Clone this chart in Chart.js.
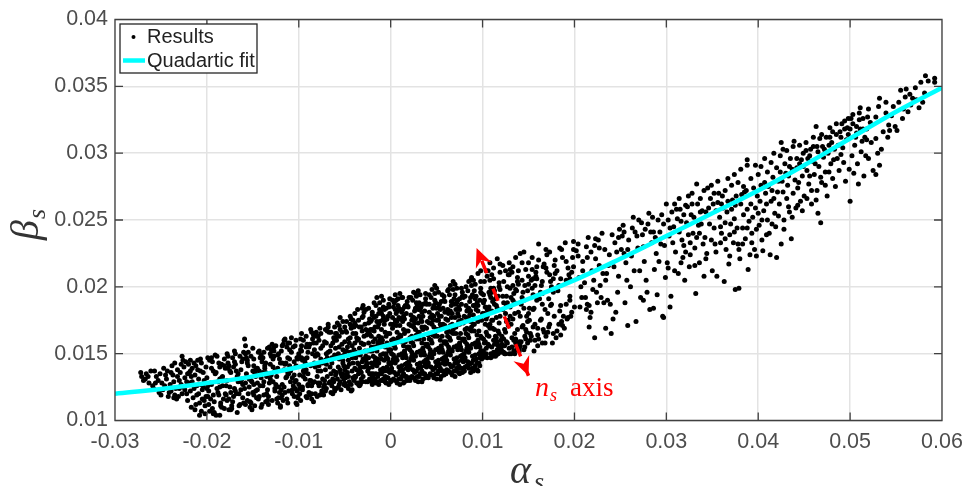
<!DOCTYPE html>
<html>
<head>
<meta charset="utf-8">
<title>alpha_s vs beta_s</title>
<script src="https://cdn.jsdelivr.net/npm/chart.js@4"></script>
<style>
  html, body { margin: 0; padding: 0; background: #fff; }
  canvas { display: block; }
</style>
</head>
<body>
<canvas id="graph" width="965" height="486"></canvas>
<script>
// Tick labels
var alphaTicks = [-0.03, -0.02, -0.01, 0, 0.01, 0.02, 0.03, 0.04, 0.05, 0.06];
var betaTicks = [0.01, 0.015, 0.02, 0.025, 0.03, 0.035, 0.04];
var seriesNames = ['Results', 'Quadartic fit'];

// Fit curve
var fitAlpha = [-0.03, -0.025, -0.02, -0.015, -0.01, -0.005, 0, 0.005, 0.01, 0.015, 0.02, 0.025, 0.03, 0.035, 0.04, 0.045, 0.05, 0.055, 0.06];
var fitBeta = [0.012, 0.01235, 0.0128, 0.0133, 0.014, 0.0148, 0.0157, 0.0167, 0.0178, 0.0191, 0.0205, 0.0221, 0.0238, 0.0255, 0.0272, 0.0291, 0.0311, 0.0331, 0.0349];

// n_s axis arrow, tip to tip
var arrowAlpha = [0.00935, 0.015];
var arrowBeta = [0.0229, 0.01335];

var resultPairs = [
-272,136,-269,130,-271,133,-266,135,-263,128,-267,131,-261,137,-264,133,-259,126,
-257,137,-252,121,-255,133,-249,128,-258,124,-247,139,-250,119,-253,130,-245,134,-248,123,-243,137,-256,128,-242,118,-246,126,-251,135,-244,131,-241,121,
-238,141,-233,116,-236,129,-239,122,-229,136,-235,143,-226,125,-231,118,-224,132,-237,134,-221,115,-228,127,-227,148,-232,138,-225,140,-222,120,-234,124,-230,130,-223,144,-240,127,-227,120,-236,117,-226,145,-232,133,-228,142,-221,135,-224,123,-239,136,-235,119,-222,129,-230,124,
-217,110,-209,131,-214,143,-204,125,-219,136,-206,107,-211,119,-201,140,-216,129,-208,104,-213,134,-203,115,-218,145,-205,123,-210,138,-202,111,-215,117,-207,127,-220,142,-212,112,-200,132,-216,139,-209,120,-204,136,-211,126,-218,122,-201,118,-206,143,-213,108,-203,130,-219,128,-208,113,-214,124,-205,116,-210,145,-217,133,-202,105,-207,137,-212,141,-200,124,
-193,105,-186,125,-199,147,-181,109,-190,136,-196,116,-184,142,-188,121,-198,112,-182,130,-191,149,-185,113,-195,127,-180,139,-192,106,-187,119,-197,145,-183,133,-194,109,-189,124,-181,141,-199,118,-186,104,-193,137,-184,132,-196,128,-190,104,-187,143,-198,122,-182,116,-191,135,-185,111,-194,144,-180,120,-188,129,-197,107,-192,114,-183,126,-195,139,-189,148,-186,131,-199,126,-181,146,-193,119,-184,110,
-174,108,-162,131,-178,150,-168,120,-171,140,-164,112,-179,126,-161,146,-176,116,-166,135,-173,109,-169,122,-177,143,-163,129,-172,114,-160,151,-175,137,-165,111,-170,124,-167,133,-178,115,-161,127,-174,136,-164,148,-179,119,-169,142,-176,108,-162,144,-171,118,-166,129,-173,111,-163,123,-177,139,-168,137,-175,125,-160,113,-172,147,-165,120,-170,152,-178,130,-167,106,-163,138,-174,121,-176,141,-161,117,
-152,113,-143,152,-158,128,-149,119,-155,141,-141,110,-147,133,-157,147,-145,123,-153,114,-159,161,-148,136,-151,108,-142,126,-156,145,-146,117,-154,131,-144,151,-150,121,-140,112,-158,156,-147,138,-152,130,-143,118,-156,143,-149,127,-141,149,-155,120,-145,139,-153,110,-159,124,-142,147,-157,135,-148,111,-151,129,-144,116,-150,154,-146,134,-154,125,-140,144,-158,112,-143,137,-152,148,-147,122,-156,115,-149,141,-141,132,-155,151,-145,128,
-134,115,-122,150,-138,129,-126,122,-131,142,-120,111,-136,136,-125,156,-133,118,-128,146,-139,126,-123,113,-130,153,-135,133,-121,121,-127,148,-137,139,-124,116,-132,128,-129,157,-139,136,-122,117,-134,154,-126,124,-136,143,-120,110,-131,131,-123,149,-138,119,-128,140,-125,127,-133,112,-121,146,-130,134,-135,120,-127,152,-137,141,-124,133,-129,115,-122,125,-139,147,-132,155,-126,137,-136,114,-120,143,-134,123,-128,129,-123,139,-131,150,
-111,135,-102,112,-116,160,-105,144,-119,123,-108,151,-101,117,-113,133,-104,156,-118,127,-110,141,-103,113,-115,161,-107,120,-100,148,-112,136,-117,115,-106,155,-109,129,-114,143,-101,118,-119,152,-104,129,-112,113,-108,139,-116,125,-102,147,-110,158,-118,119,-105,134,-113,116,-100,150,-107,123,-115,142,-103,130,-111,122,-117,157,-106,126,-109,137,-119,117,-101,146,-114,132,-104,124,-110,153,-116,138,-108,162,-102,122,-112,147,-118,143,-105,118,-100,127,-113,155,-107,132,-115,121,-103,141,
-93,146,-84,114,-97,165,-88,130,-92,155,-99,120,-82,140,-95,160,-86,116,-90,135,-80,150,-96,125,-87,168,-83,143,-98,115,-91,157,-85,128,-94,136,-81,163,-89,121,-99,124,-83,153,-92,138,-86,120,-97,147,-81,166,-90,127,-95,133,-84,158,-88,119,-93,143,-80,133,-98,153,-87,130,-85,161,-96,123,-82,148,-91,117,-94,139,-89,155,-99,134,-86,126,-83,129,-97,152,-81,142,-92,118,-88,157,-95,137,-84,164,-90,126,-80,118,-93,131,-85,150,-98,161,-87,141,-91,147,-82,120,-96,145,
-71,145,-63,120,-77,169,-69,133,-74,156,-61,124,-79,163,-66,140,-73,119,-70,150,-62,129,-68,172,-76,137,-65,121,-78,160,-64,147,-72,127,-60,154,-75,120,-67,166,-79,128,-63,158,-71,138,-61,122,-76,146,-69,167,-74,131,-66,152,-78,126,-62,162,-70,142,-77,119,-65,156,-60,134,-73,125,-68,170,-64,143,-79,149,-72,130,-61,149,-75,122,-67,128,-79,137,-62,137,-70,124,-76,154,-65,135,-72,159,-66,129,-74,143,-68,151,-63,131,-77,128,-60,165,-71,122,-64,126,-78,141,-61,160,-69,147,
-53,157,-42,123,-58,173,-47,140,-55,129,-41,165,-50,150,-57,125,-44,178,-52,135,-59,160,-46,145,-54,123,-40,170,-49,132,-56,155,-43,176,-51,127,-45,142,-58,163,-41,132,-53,148,-47,126,-55,168,-42,156,-50,138,-59,124,-44,172,-52,145,-56,127,-40,153,-48,174,-54,135,-46,161,-43,122,-51,141,-57,150,-49,167,-45,129,-41,175,-59,165,-52,143,-47,136,-55,177,-42,147,-50,128,-58,148,-44,162,-53,133,-48,152,-56,171,-40,130,-46,124,-54,147,-43,169,-51,131,-57,140,-49,126,-45,158,-42,137,-59,136,-47,155,-53,166,-41,143,-56,146,-50,159,-44,151,-48,134,-58,131,-52,153,-46,133,-55,138,-43,127,
-31,184,-22,130,-38,165,-27,148,-35,127,-21,175,-33,140,-24,158,-39,132,-29,181,-36,150,-20,127,-32,170,-26,142,-37,162,-23,135,-30,186,-34,154,-25,129,-28,172,-39,139,-21,155,-35,128,-31,177,-27,145,-38,133,-22,168,-36,183,-24,147,-33,127,-29,163,-37,138,-20,179,-32,131,-25,152,-39,173,-26,141,-34,128,-23,165,-30,146,-38,171,-21,143,-28,152,-35,135,-24,184,-36,160,-27,129,-33,137,-22,174,-31,144,-39,133,-29,157,-37,149,-20,181,-34,126,-25,167,-32,136,-23,176,-26,143,-30,157,-38,151,-21,135,-35,161,-27,168,-33,149,-24,139,-37,128,-29,140,-22,152,-39,158,-31,129,-26,164,-36,143,-20,133,-28,146,-34,170,-23,131,-32,158,-25,137,-38,147,-30,133,-21,163,-35,142,
-12,188,-3,132,-17,170,-8,150,-15,129,-1,180,-13,143,-5,163,-19,135,-10,193,-16,155,0,130,-6,175,-14,146,-2,187,-11,138,-18,167,-4,132,-9,157,-7,183,-20,140,-12,160,-17,131,-3,178,-15,152,-1,136,-13,172,-8,190,-19,148,-5,128,-10,168,-16,142,-2,185,-6,133,-14,158,-18,177,-4,147,-11,130,-7,172,0,138,-9,175,-17,147,-12,157,-3,137,-15,192,-1,165,-19,130,-8,139,-13,180,-5,150,-16,135,-10,162,-2,153,-18,188,-6,129,-14,170,-4,140,-11,181,-7,145,-9,160,-20,128,-12,183,-17,144,-3,165,-15,141,-1,152,-13,163,-8,178,-19,134,-5,148,-16,186,-10,135,0,172,-2,143,-18,155,-6,166,-14,133,-4,158,-11,149,-7,137,-9,130,-20,152,-12,135,-17,161,-3,146,-15,174,-1,143,-13,127,-8,131,-19,159,-5,184,-10,146,-16,128,-2,127,-18,142,-6,155,
8,191,17,133,3,172,12,150,5,130,19,185,7,145,15,165,1,137,10,195,4,156,20,132,14,178,6,147,18,189,9,140,2,169,16,133,11,159,13,183,0,142,8,162,3,131,17,180,5,154,19,138,7,174,12,192,1,150,15,129,10,171,4,144,18,186,14,135,6,160,2,177,16,149,9,131,13,174,20,140,11,176,3,149,8,159,17,139,5,194,19,167,1,130,12,141,7,182,15,152,4,136,10,164,18,155,2,190,14,128,6,171,16,142,9,184,13,147,11,163,0,129,8,186,3,146,17,167,5,143,19,154,7,166,12,181,1,139,15,151,4,188,10,137,20,172,18,143,2,157,14,168,6,134,16,159,9,149,13,138,11,131,0,153,8,135,3,161,17,147,5,175,19,142,7,128,12,133,1,160,15,185,4,147,10,127,18,130,2,144,14,156,6,180,
28,193,37,135,23,175,32,152,25,132,39,187,27,148,35,168,21,139,30,197,24,158,40,133,34,181,26,149,38,191,29,142,22,171,36,135,31,161,33,185,20,144,28,164,23,133,37,182,25,156,39,140,27,176,32,194,21,153,35,131,30,173,24,146,38,188,34,137,26,162,22,179,36,151,29,133,33,176,40,143,31,178,23,151,28,161,37,141,25,196,39,169,21,130,32,143,27,184,35,154,24,138,30,166,38,157,22,192,34,129,26,173,36,144,29,186,33,149,31,166,20,131,28,188,23,148,37,170,25,145,39,156,27,168,32,183,21,141,35,153,24,190,30,139,40,174,38,145,22,159,34,170,26,136,36,161,29,151,33,140,31,133,20,155,28,137,23,163,37,149,25,177,39,144,27,130,32,135,21,162,35,187,24,149,30,129,38,132,22,146,34,158,26,182,
48,195,57,137,43,177,52,154,45,134,59,189,47,150,55,170,41,141,50,199,44,160,60,135,54,183,46,151,58,193,49,144,42,173,56,137,51,163,53,187,40,146,48,166,43,135,57,184,45,158,59,142,47,178,52,196,41,155,55,133,50,175,44,148,58,190,54,139,46,164,42,181,56,153,49,135,53,178,60,145,51,180,43,153,48,163,57,143,45,198,59,171,41,132,52,145,47,186,55,156,44,140,50,168,58,159,42,194,54,131,46,175,56,146,49,188,53,151,51,168,40,133,48,201,43,150,57,172,45,147,59,158,47,170,52,185,41,143,55,155,44,192,50,141,60,176,58,147,42,161,54,172,46,138,56,163,49,153,53,142,51,135,40,157,48,139,43,165,57,151,45,179,59,146,47,132,52,137,41,164,55,189,44,151,50,131,58,134,42,148,54,160,46,184,
68,198,77,139,63,180,72,156,65,136,79,192,67,152,75,172,61,143,70,202,64,162,80,137,74,185,66,153,78,196,69,146,62,175,76,139,71,165,73,190,60,148,68,168,63,137,77,187,65,160,79,144,67,180,72,199,61,157,75,135,70,177,64,150,78,193,74,141,66,166,62,183,76,155,69,137,73,180,80,147,71,183,63,155,68,165,77,145,65,201,79,173,61,138,72,147,67,189,75,158,64,142,70,170,78,161,62,197,74,136,66,177,76,148,69,191,73,153,71,170,60,135,68,204,63,152,77,175,65,149,79,160,67,172,72,188,61,145,75,157,64,194,70,143,80,178,78,149,62,163,74,174,66,140,76,165,69,155,73,144,71,137,60,159,68,141,63,167,77,153,65,182,79,148,67,134,72,139,61,166,75,191,64,153,70,133,78,136,62,150,74,162,66,186,
88,201,97,141,83,182,92,158,85,139,99,195,87,154,95,174,81,145,90,205,84,164,100,147,94,188,86,155,98,199,89,148,82,177,96,143,91,167,93,193,80,150,88,170,83,141,97,190,85,162,99,146,87,182,92,202,81,159,95,137,90,179,84,152,98,196,94,143,86,168,82,186,96,157,89,139,93,183,100,149,91,186,83,157,88,167,97,147,85,204,99,175,81,140,92,149,87,192,95,160,84,144,90,172,98,163,82,200,94,138,86,179,96,150,89,194,93,155,91,172,80,137,88,207,83,154,97,177,85,151,99,162,87,174,92,191,81,147,95,159,84,197,90,145,100,180,98,152,82,165,94,176,86,142,96,167,89,157,93,146,91,139,80,161,88,143,83,169,97,155,85,184,99,150,87,136,92,141,81,168,95,210,84,156,90,137,98,212,82,152,94,164,86,189,
108,205,117,150,103,185,112,160,105,147,119,198,107,156,115,177,101,149,110,209,104,166,120,151,114,191,106,157,118,203,109,150,102,180,116,153,111,169,113,197,100,152,108,172,103,148,117,193,105,164,119,152,107,185,112,206,101,161,115,149,110,182,104,154,118,200,114,151,106,171,102,190,116,159,109,147,113,187,120,154,111,189,103,159,108,169,117,156,105,208,119,178,101,152,112,151,107,196,115,162,104,150,110,175,118,165,102,204,114,148,106,182,116,157,109,199,113,157,111,175,100,147,108,218,103,172,112,214,116,221,119,211,105,183,117,167,101,194,110,155,114,163,106,212,118,173,102,158,115,186,107,163,111,148,109,192,120,160,104,176,113,168,
128,209,137,156,123,188,132,162,125,150,139,202,127,158,135,180,121,152,130,213,124,168,140,152,134,195,126,159,138,207,129,154,122,183,136,158,131,172,133,201,120,155,128,175,123,151,137,197,125,166,139,153,127,188,132,211,121,163,135,150,130,185,124,156,138,204,134,152,126,174,122,193,136,161,129,150,133,190,140,154,131,192,123,161,128,171,137,153,125,212,139,181,121,157,132,155,127,200,135,165,124,150,130,178,138,168,122,216,134,160,126,186,136,222,129,218,133,176,131,150,
147,213,156,152,143,192,152,165,145,153,159,206,147,161,155,183,141,156,150,218,144,171,160,156,154,199,146,163,158,211,149,158,142,187,157,160,151,175,153,205,140,159,148,178,143,170,157,201,145,190,159,215,148,166,152,160,141,225,155,194,144,196,149,174,146,155,158,208,150,180,142,159,154,222,156,184,147,168,160,169,151,184,145,226,153,163,149,197,157,172,143,205,155,170,141,178,159,190,
167,217,176,158,163,196,172,170,165,158,179,210,167,166,175,187,161,161,170,224,164,176,180,162,174,204,166,168,178,216,169,163,162,191,177,165,171,180,173,209,160,164,168,183,163,175,177,206,165,195,179,220,173,172,171,166,161,232,175,200,164,201,169,228,174,186,178,178,166,215,172,191,168,158,
187,222,196,178,183,201,192,176,185,164,199,215,187,171,195,193,181,167,190,233,184,182,200,185,194,209,186,174,198,222,189,169,182,197,197,181,191,187,193,214,183,172,188,178,191,205,195,190,199,228,185,186,193,177,197,211,184,229,
202,227,213,183,205,207,206,185,208,192,209,219,214,187,212,192,216,170,215,237,216,186,218,181,219,212,220,198,204,232,207,200,211,203,214,222,217,177,222,162,240,165,234,169,
222,231,224,196,225,188,227,216,229,192,230,240,232,188,234,205,236,190,238,224,221,205,226,235,231,210,235,210,239,187,241,239,243,215,245,181,247,196,249,243,242,176,246,226,248,208,223,221,228,201,233,228,237,216,244,233,
251,228,253,246,255,188,256,218,258,171,259,235,261,200,263,244,265,212,267,174,269,229,270,250,272,192,274,239,276,219,278,205,280,247,282,183,284,233,285,252,287,213,289,225,290,194,293,241,295,254,296,178,298,231,299,207,252,238,257,205,262,223,266,241,271,212,275,230,279,196,283,241,288,237,292,219,297,247,254,225,
286,184,297,177,275,190,304,185,305,193,301,218,303,238,306,256,308,245,310,226,312,251,313,210,315,258,317,235,318,222,320,205,322,248,323,260,325,215,327,254,329,240,331,229,332,195,334,262,336,218,338,247,339,257,341,208,302,250,307,233,311,258,314,241,316,249,319,231,321,261,324,239,326,224,328,262,330,252,333,237,335,246,337,256,340,232,
342,237,344,225,346,259,348,266,350,212,352,244,353,232,355,208,356,263,358,252,360,240,361,268,363,204,365,228,366,256,368,217,370,247,372,265,373,233,375,198,375,261,377,244,379,199,380,221,382,269,384,254,386,236,387,272,389,213,390,249,391,224,392,262,393,240,395,274,396,228,397,259,398,223,343,256,347,247,351,262,354,257,357,270,359,233,362,259,364,248,367,264,369,239,371,258,374,251,376,268,378,232,381,262,383,244,385,271,388,258,394,252,
399,268,401,246,403,276,404,235,405,227,406,257,408,270,410,250,411,275,412,240,413,224,414,264,416,282,418,255,419,245,420,222,421,271,423,262,425,232,425,308,426,279,428,250,430,285,431,266,432,276,434,256,436,236,437,288,438,270,439,309,440,280,441,259,443,274,445,292,446,264,448,283,449,300,450,268,400,255,402,264,407,278,409,262,415,272,417,266,422,279,424,286,427,271,429,292,433,283,435,296,442,289,444,278,447,295,
452,308,453,287,455,277,457,303,458,262,459,294,461,284,463,320,464,272,465,255,465,301,466,290,467,311,468,248,469,278,470,305,471,297,473,286,475,268,476,300,478,319,478,312,479,292,480,308,481,281,483,303,484,275,485,314,486,296,488,287,489,316,454,296,456,283,460,305,462,292,472,303,474,312,477,286,482,295,487,306,490,299,
491,322,492,304,493,293,494,324,495,279,496,310,498,314,499,288,500,318,500,264,501,326,502,298,503,329,504,285,505,306,507,320,508,292,509,277,511,334,511,318,512,301,514,326,515,283,516,312,518,318,518,310,520,333,520,296,522,323,523,308,525,287,528,327,528,311,528,284,530,300,531,335,532,341,532,291,534,303,536,316,497,319,506,312,510,325,513,309,517,298,519,327,
539,338,539,330,541,312,542,321,543,317,545,328,547,335,549,320,551,317,553,338,555,347,557,326,558,333,560,342,561,348,563,331,565,344,566,336,568,341,571,349,572,340,575,334,577,353,579,338,581,345,585,354,582,358,592,356,592,353,
];

// Second reading: the upper half of the cloud and the band above the fit on the right
var resultPairsUpper = [
-218,137,-207,146,-195,147,-186,140,-177,148,-169,150,-158,150,-149,146,-138,151,-127,155,-118,156,-112,158,-103,160,-97,156,-92,163,-86,166,-81,158,-76,165,-71,168,-65,166,-61,170,-56,163,-52,174,-48,166,-43,171,-39,180,-35,175,-31,167,-27,183,-24,173,-20,168,-16,178,-12,174,-8,185,-4,176,-1,191,3,185,6,190,9,177,13,192,16,186,20,192,24,177,27,195,31,188,34,174,38,195,42,187,45,178,48,190,52,175,56,194,59,181,63,198,66,189,70,194,74,178,77,199,81,193,84,183,87,205,91,197,95,182,98,204,101,188,104,212,108,194,112,199,116,184,119,217,123,204,126,193,129,209,133,215,136,198,139,212,143,218,146,201,150,208,154,213,158,193,161,220,165,204,169,214,173,226,177,196,181,212,186,228,191,219,195,206,199,234,204,223,209,212,213,230,218,226,223,236,227,229,
-170,144,-150,137,-130,148,-110,146,-90,151,-70,158,-50,170,-30,178,-10,180,10,183,30,183,50,184,70,187,90,186,110,196,130,199,150,202,170,211,
5,183,15,176,25,170,35,178,45,172,55,178,65,171,75,183,85,176,95,186,105,178,115,192,125,180,135,188,145,184,155,206,165,187,175,199,185,206,
248,237,254,241,258,228,264,252,268,238,273,248,277,243,281,255,286,241,291,250,294,232,300,262,304,244,309,262,314,266,319,254,324,268,328,270,333,277,337,266,341,272,345,274,349,276,352,270,356,279,360,262,364,272,367,281,371,276,374,284,378,278,381,288,384,275,388,295,388,291,392,281,397,291,400,284,403,290,407,296,410,286,414,293,417,300,420,289,424,298,427,303,431,302,434,290,438,305,442,296,445,306,449,290,452,302,456,298,460,312,464,305,469,314,473,301,477,306,481,316,485,322,490,312,494,318,498,326,503,322,507,315,510,330,514,318,
302,214,309,212,316,218,321,226,326,233,331,216,336,240,343,221,349,235,354,226,359,245,364,236,369,223,374,241,379,228,383,232,388,244,393,233,398,243,404,250,409,239,415,247,422,253,428,243,433,260,437,252,443,261,448,257,453,266,458,272,463,265,468,282,473,276,
];

function splitPairs() {
  var out = [];
  for (var a = 0; a < arguments.length; a++) {
    var list = arguments[a];
    for (var i = 0; i + 1 < list.length; i += 2) {
      out.push({ x: list[i] * 1e-4, y: list[i + 1] * 1e-4 });
    }
  }
  return out;
}

function zipPoints(xs, ys) {
  var out = [];
  for (var i = 0; i < xs.length; i++) {
    out.push({ x: xs[i], y: ys[i] });
  }
  return out;
}

var boxColor = '#404040';

// box, inside ticks, axis names, n_s label, arrow heads and the legend
var extrasPlugin = {
  id: 'extras',
  afterDatasetsDraw: function (chart) {
    var ctx = chart.ctx;
    var area = chart.chartArea;
    var xs = chart.scales.x;
    var ys = chart.scales.y;

    // arrow heads
    var x0 = xs.getPixelForValue(arrowAlpha[0]), y0 = ys.getPixelForValue(arrowBeta[0]);
    var x1 = xs.getPixelForValue(arrowAlpha[1]), y1 = ys.getPixelForValue(arrowBeta[1]);
    drawHead(ctx, x0, y0, Math.atan2(y0 - y1, x0 - x1));
    drawHead(ctx, x1, y1, Math.atan2(y1 - y0, x1 - x0));

    ctx.save();
    ctx.strokeStyle = boxColor;
    ctx.lineWidth = 1.3;
    ctx.beginPath();
    ctx.rect(area.left, area.top, area.right - area.left, area.bottom - area.top);
    alphaTicks.forEach(function (v) {
      var px = xs.getPixelForValue(v);
      ctx.moveTo(px, area.bottom); ctx.lineTo(px, area.bottom - 8);
      ctx.moveTo(px, area.top); ctx.lineTo(px, area.top + 8);
    });
    betaTicks.forEach(function (v) {
      var py = ys.getPixelForValue(v);
      ctx.moveTo(area.left, py); ctx.lineTo(area.left + 8, py);
      ctx.moveTo(area.right, py); ctx.lineTo(area.right - 8, py);
    });
    ctx.stroke();

    // axis names
    ctx.fillStyle = '#333333';
    ctx.textBaseline = 'alphabetic';
    ctx.textAlign = 'left';
    ctx.font = 'italic 40px "Liberation Serif"';
    ctx.fillText('\u03b1', 510, 483);
    ctx.font = 'italic 26px "Liberation Serif"';
    ctx.fillText('s', 534, 490);
    ctx.save();
    ctx.translate(38, 240);
    ctx.rotate(-Math.PI / 2);
    ctx.font = 'italic 40px "Liberation Serif"';
    ctx.fillText('\u03b2', 0, 0);
    ctx.font = 'italic 26px "Liberation Serif"';
    ctx.fillText('s', 21, 7);
    ctx.restore();

    // n_s axis label
    ctx.fillStyle = '#ff0000';
    var lx = xs.getPixelForValue(0.0157), ly = ys.getPixelForValue(0.0118);
    ctx.font = 'italic 28px "Liberation Serif"';
    ctx.fillText('n', lx, ly);
    ctx.font = 'italic 18px "Liberation Serif"';
    ctx.fillText('s', lx + 15, ly + 5);
    ctx.font = '27px "Liberation Serif"';
    ctx.fillText('axis', lx + 35, ly);

    // legend
    ctx.fillStyle = '#ffffff';
    ctx.strokeStyle = '#262626';
    ctx.lineWidth = 1.3;
    ctx.fillRect(120, 24, 137, 49);
    ctx.strokeRect(120, 24, 137, 49);
    ctx.fillStyle = '#000000';
    ctx.beginPath();
    ctx.arc(133.5, 37, 2, 0, Math.PI * 2);
    ctx.fill();
    ctx.strokeStyle = '#00ffff';
    ctx.lineWidth = 4.5;
    ctx.beginPath();
    ctx.moveTo(123, 60.5);
    ctx.lineTo(145, 60.5);
    ctx.stroke();
    ctx.fillStyle = '#222222';
    ctx.font = '20px "Liberation Sans"';
    ctx.textBaseline = 'middle';
    ctx.fillText(seriesNames[0], 147, 37.5);
    ctx.fillText(seriesNames[1], 147, 61);
    ctx.restore();
  }
};

function drawHead(ctx, x, y, angle) {
  ctx.save();
  ctx.translate(x, y);
  ctx.rotate(angle);
  ctx.fillStyle = '#ff0000';
  ctx.beginPath();
  ctx.moveTo(0, 0);
  ctx.lineTo(-19, 8.5);
  ctx.lineTo(-13, 0);
  ctx.lineTo(-19, -8.5);
  ctx.closePath();
  ctx.fill();
  ctx.restore();
}

var chart = new Chart(document.getElementById('graph').getContext('2d'), {
  type: 'scatter',
  data: {
    datasets: [
      {
        label: 'n_s axis',
        type: 'line',
        data: zipPoints(arrowAlpha, arrowBeta),
        borderColor: '#ff0000',
        borderWidth: 3.5,
        borderDash: [13.3, 16.7],
        borderDashOffset: 16.3,
        pointRadius: 0,
        order: 0
      },
      {
        label: seriesNames[1],
        type: 'line',
        data: zipPoints(fitAlpha, fitBeta),
        borderColor: '#00ffff',
        borderWidth: 4.5,
        pointRadius: 0,
        tension: 0.4,
        order: 1
      },
      {
        label: seriesNames[0],
        data: splitPairs(resultPairs, resultPairsUpper),
        backgroundColor: '#000000',
        borderWidth: 0,
        pointRadius: 2.5,
        order: 2
      }
    ]
  },
  options: {
    responsive: false,
    animation: false,
    devicePixelRatio: 1,
    layout: { padding: { left: 0, right: 23, top: 19.5, bottom: 0 } },
    plugins: { legend: { display: false }, tooltip: { enabled: false } },
    scales: {
      x: {
        type: 'linear',
        min: -0.03,
        max: 0.06,
        afterBuildTicks: function (scale) {
          scale.ticks = alphaTicks.map(function (v) { return { value: v }; });
        },
        afterFit: function (scale) {
          scale.height = 65.5;
          scale.paddingLeft = 0;
          scale.paddingRight = 0;
        },
        grid: { color: '#e3e3e3', lineWidth: 1.5, drawTicks: false },
        border: { display: false },
        ticks: {
          color: '#4d4d4d',
          font: { family: '"Liberation Sans"', size: 21.5 },
          padding: 9,
          maxRotation: 0,
          autoSkip: false,
          callback: function (v) { return String(v); }
        }
      },
      y: {
        type: 'linear',
        min: 0.01,
        max: 0.04,
        afterBuildTicks: function (scale) {
          scale.ticks = betaTicks.map(function (v) { return { value: v }; });
        },
        afterFit: function (scale) {
          scale.width = 115;
          scale.paddingTop = 0;
          scale.paddingBottom = 0;
        },
        grid: { color: '#e3e3e3', lineWidth: 1.5, drawTicks: false },
        border: { display: false },
        ticks: {
          color: '#4d4d4d',
          font: { family: '"Liberation Sans"', size: 21.5 },
          padding: 7,
          autoSkip: false,
          callback: function (v) { return String(v); }
        }
      }
    }
  },
  plugins: [extrasPlugin]
});
</script>
</body>
</html>
